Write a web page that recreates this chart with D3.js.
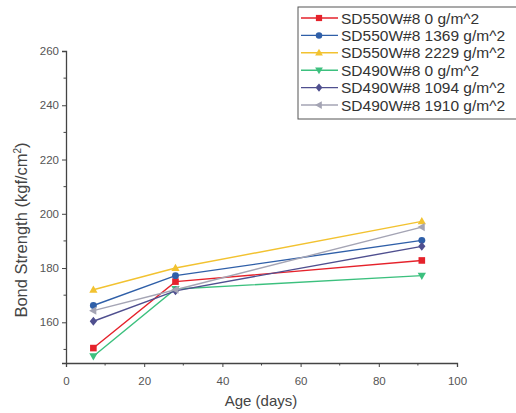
<!DOCTYPE html>
<html><head><meta charset="utf-8">
<script src="https://cdn.jsdelivr.net/npm/d3@7/dist/d3.min.js"></script>
<style>body{margin:0;background:#fff}svg{display:block;font-family:"Liberation Sans",Arial,sans-serif}</style>
</head><body><svg id="c" width="516" height="413"></svg>
<script>
const ages = [7, 28, 91];
const seriesNames = ["SD550W#8 0 g/m^2","SD550W#8 1369 g/m^2","SD550W#8 2229 g/m^2","SD490W#8 0 g/m^2","SD490W#8 1094 g/m^2","SD490W#8 1910 g/m^2"];
const sd550_0 = [150.5, 175, 182.8];
const sd550_1369 = [166.2, 177.2, 190.2];
const sd550_2229 = [172, 180, 197.2];
const sd490_0 = [147.5, 172.3, 177.2];
const sd490_1094 = [160.4, 171.6, 188];
const sd490_1910 = [164.3, 172, 195.1];
const seriesValues = [sd550_0, sd550_1369, sd550_2229, sd490_0, sd490_1094, sd490_1910];
const colors = ["#e5222b","#2f5fa8","#f2c230","#3cc07e","#4f4f8f","#a4a4b4"];
const shapes = ["square","circle","triUp","triDown","diamond","triLeft"];
const xTicks = [0,20,40,60,80,100];
const yTicks = [160,180,200,220,240,260];

const svg = d3.select("#c");
const x = d3.scaleLinear().domain([0,100]).range([66,457]);
const y = d3.scaleLinear().domain([145,260]).range([363,51]);

// axes
const xAxis = d3.axisBottom(x).tickValues(xTicks).tickSize(4).tickFormat(d3.format("d"));
const gx = svg.append("g").attr("transform","translate(0,363)").call(xAxis);
const yAxis = d3.axisLeft(y).tickValues(yTicks).tickSize(4).tickFormat(d3.format("d"));
const gy = svg.append("g").attr("transform","translate(66,0)").call(yAxis);
[gx,gy].forEach(g=>{
  g.select(".domain").attr("stroke","#444").attr("stroke-width",1.3);
  g.selectAll(".tick line").attr("stroke","#444");
  g.selectAll(".tick text").attr("fill","#555").attr("font-size",11.5);
});
gx.selectAll(".tick text").attr("dy","1.3em");
// minor ticks
const xMinor = d3.range(10,100,20);
svg.append("g").selectAll("line").data(xMinor).join("line")
  .attr("x1",d=>x(d)).attr("x2",d=>x(d)).attr("y1",363).attr("y2",365.5).attr("stroke","#444");
const yMinor = d3.range(150,260,20);
svg.append("g").selectAll("line").data(yMinor).join("line")
  .attr("x1",66).attr("x2",63.5).attr("y1",d=>y(d)).attr("y2",d=>y(d)).attr("stroke","#444");

// titles
svg.append("text").attr("x",261).attr("y",406).attr("text-anchor","middle")
  .attr("font-size",15).attr("fill","#444").text("Age (days)");
const yt = svg.append("text").attr("transform","translate(27,230) rotate(-90)")
  .attr("text-anchor","middle").attr("font-size",16.5).attr("fill","#444");
yt.append("tspan").text("Bond Strength (kgf/cm");
yt.append("tspan").attr("font-size",10).attr("dy",-6).text("2");
yt.append("tspan").attr("dy",6).text(")");

function marker(sel, shape, s){
  const r = s;
  let p;
  switch(shape){
    case "square": return sel.append("rect").attr("x",-r).attr("y",-r).attr("width",2*r).attr("height",2*r);
    case "circle": return sel.append("circle").attr("r",r*1.05);
    case "triUp": p=[[0,-r*1.3],[r*1.25,r*0.9],[-r*1.25,r*0.9]]; break;
    case "triDown": p=[[0,r*1.3],[r*1.25,-r*0.9],[-r*1.25,-r*0.9]]; break;
    case "diamond": p=[[0,-r*1.35],[r*1.1,0],[0,r*1.35],[-r*1.1,0]]; break;
    case "triLeft": p=[[-r*1.3,0],[r*0.9,-r*1.25],[r*0.9,r*1.25]]; break;
  }
  return sel.append("polygon").attr("points",p.map(q=>q.join(",")).join(" "));
}

const line = d3.line().x((d,i)=>x(ages[i])).y(d=>y(d));
seriesValues.forEach((vals,k)=>{
  const g = svg.append("g");
  g.append("path").attr("d",line(vals)).attr("fill","none").attr("stroke",colors[k]).attr("stroke-width",1.4);
  vals.forEach((v,i)=>{
    const m = g.append("g").attr("transform",`translate(${x(ages[i])},${y(v)})`);
    marker(m,shapes[k],3.3).attr("fill",colors[k]);
  });
});

// legend
const lg = svg.append("g");
lg.append("rect").attr("x",298).attr("y",7).attr("width",230).attr("height",112)
  .attr("fill","#fff").attr("stroke","#555").attr("stroke-width",1);
seriesNames.forEach((n,k)=>{
  const yy = 18 + k*17.4;
  lg.append("line").attr("x1",301).attr("x2",338).attr("y1",yy).attr("y2",yy).attr("stroke",colors[k]).attr("stroke-width",1.4);
  const m = lg.append("g").attr("transform",`translate(319,${yy})`);
  marker(m,shapes[k],3.1).attr("fill",colors[k]);
  lg.append("text").attr("x",341).attr("y",yy+5.5).attr("font-size",15.5).attr("fill","#333").text(n);
});
</script></body></html>
